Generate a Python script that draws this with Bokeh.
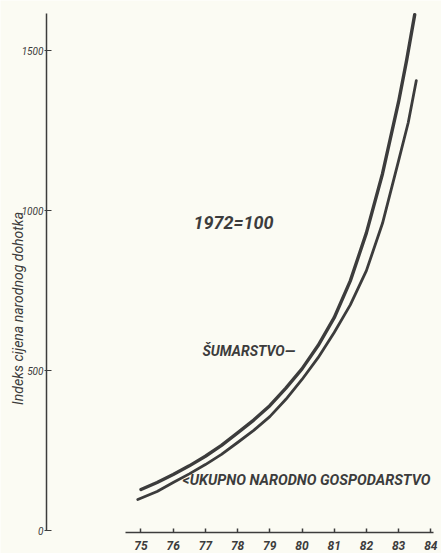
import math
from bokeh.plotting import figure
from bokeh.models import Range1d, FixedTicker, Label
from bokeh.embed import file_html
from bokeh.resources import INLINE

# ---- data ----
years_sumarstvo = [75, 75.5, 76, 76.5, 77, 77.5, 78, 78.5, 79, 79.5, 80, 80.5,
                   81, 81.5, 82, 82.5, 83, 83.25, 83.5]
sumarstvo = [128, 150, 175, 202, 232, 266, 305, 345, 390, 445, 505, 578,
             665, 780, 930, 1115, 1340, 1470, 1612]
years_ukupno = [74.9, 75.5, 76, 76.5, 77, 77.5, 78, 78.5, 79, 79.5, 80, 80.5,
                81, 81.5, 82, 82.5, 83, 83.3, 83.55]
ukupno = [97, 122, 150, 177, 206, 238, 275, 313, 356, 410, 472, 540,
          619, 705, 812, 960, 1156, 1275, 1406]
x_ticks = [75, 76, 77, 78, 79, 80, 81, 82, 83, 84]
y_ticks = [0, 500, 1000, 1500]
y_title = "Indeks cijena narodnog dohotka"
base_note = "1972=100"
label_sum = "ŠUMARSTVO—"
label_uk = "<UKUPNO NARODNO GOSPODARSTVO"

BG = "#fbfbf3"
INK = "#3c3c3c"
FONT = "Roboto"

p = figure(width=441, height=553,
           x_range=Range1d(70.637, 84.332), y_range=Range1d(-71.875, 1656.25),
           output_backend="svg", toolbar_location=None,
           min_border_left=0, min_border_right=0,
           min_border_top=0, min_border_bottom=0)
p.grid.visible = False
p.outline_line_color = None
p.background_fill_color = BG
p.border_fill_color = BG

# x axis (placed inside the frame at a fixed value)
xa = p.xaxis[0]
xa.fixed_location = -6.25
xa.ticker = FixedTicker(ticks=x_ticks)
xa.bounds = (74.53, 84.08)
xa.axis_line_color = INK
xa.axis_line_width = 1.5
xa.major_tick_line_color = INK
xa.major_tick_line_width = 1.5
xa.major_tick_in = 4
xa.major_tick_out = 0
xa.minor_tick_line_color = None
xa.major_label_text_font = FONT
xa.major_label_text_font_style = "bold italic"
xa.major_label_text_font_size = "12px"
xa.major_label_text_color = INK
xa.major_label_standoff = 8

# y axis (placed inside the frame at a fixed x)
ya = p.yaxis[0]
ya.fixed_location = 72.065
ya.ticker = FixedTicker(ticks=y_ticks)
ya.bounds = (0, 1615.6)
ya.axis_line_color = INK
ya.axis_line_width = 1.5
ya.major_tick_line_color = INK
ya.major_tick_line_width = 1.2
ya.major_tick_in = 5
ya.major_tick_out = 2
ya.minor_tick_line_color = None
ya.major_label_text_font = FONT
ya.major_label_text_font_style = "italic"
ya.major_label_text_font_size = "10px"
ya.major_label_text_color = INK
ya.major_label_standoff = 1

# curves
p.line(years_ukupno, ukupno, line_color=INK, line_width=2.8,
       line_cap="round", line_join="round")
p.line(years_sumarstvo, sumarstvo, line_color=INK, line_width=3.4,
       line_cap="round", line_join="round")

# texts
p.add_layout(Label(x=71.17, y=694, text=y_title, angle=math.pi / 2,
                   text_align="center", text_baseline="middle",
                   text_font=FONT, text_font_style="italic",
                   text_font_size="14px", text_color=INK))
p.add_layout(Label(x=76.63, y=964, text=base_note,
                   text_align="left", text_baseline="middle",
                   text_font=FONT, text_font_style="bold italic",
                   text_font_size="18px", text_color=INK))
p.add_layout(Label(x=76.91, y=562, text=label_sum,
                   text_align="left", text_baseline="middle",
                   text_font=FONT, text_font_style="bold italic",
                   text_font_size="14px", text_color=INK))
p.add_layout(Label(x=76.29, y=156, text=label_uk,
                   text_align="left", text_baseline="middle",
                   text_font=FONT, text_font_style="bold italic",
                   text_font_size="14.5px", text_color=INK))

open("out.html", "w").write(file_html(p, INLINE))
